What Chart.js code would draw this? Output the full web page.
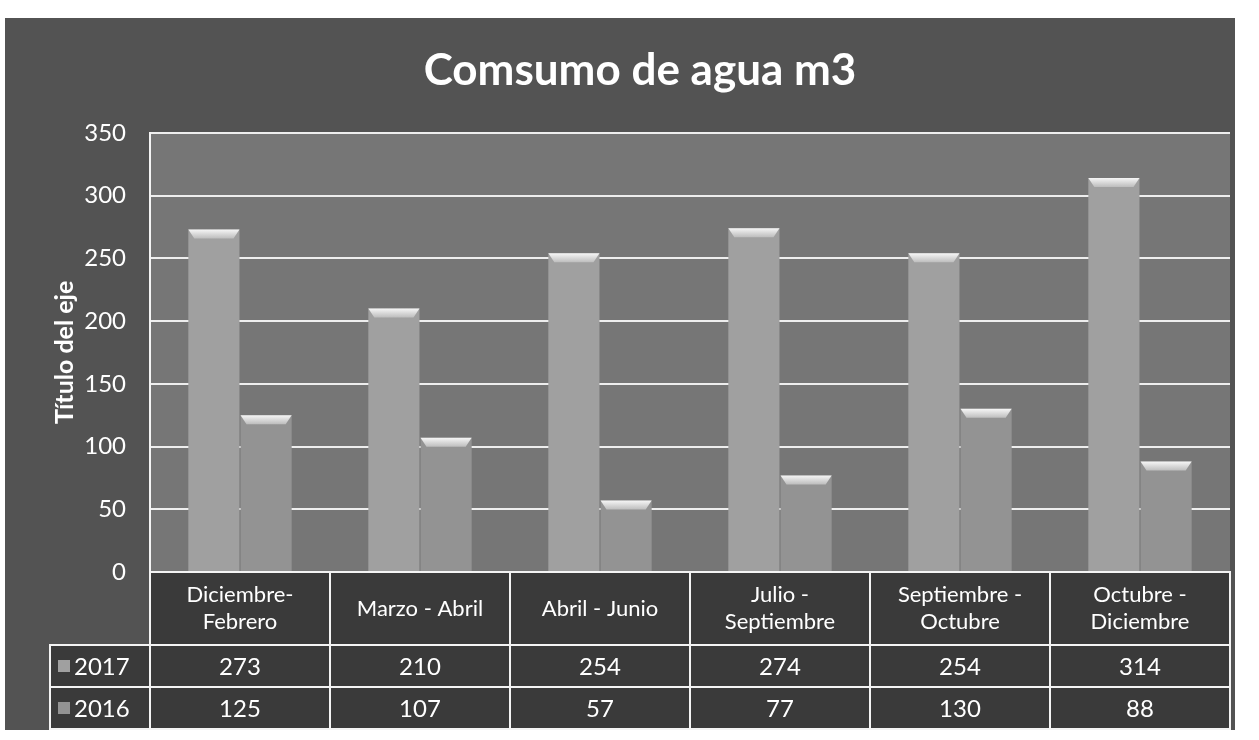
<!DOCTYPE html>
<html>
<head>
<meta charset="utf-8">
<script src="https://cdn.jsdelivr.net/npm/chart.js@4/dist/chart.umd.min.js"></script>
<style>
  html, body { margin: 0; padding: 0; background: #fff; }
  #wrap { width: 1259px; height: 740px; }
</style>
</head>
<body>
<div id="wrap"><canvas id="grafico" width="1259" height="740"></canvas></div>
<script>
const categorias = [
  ['Diciembre-', 'Febrero'],
  ['Marzo - Abril'],
  ['Abril - Junio'],
  ['Julio -', 'Septiembre'],
  ['Septiembre -', 'Octubre'],
  ['Octubre -', 'Diciembre']
];
const consumo2017 = [273, 210, 254, 274, 254, 314];
const consumo2016 = [125, 107, 57, 77, 130, 88];
const nombresSeries = ['2017', '2016'];
const coloresSeries = ['#a0a0a0', '#939393'];

const fuente = 'Lato, "Open Sans", sans-serif';

// fondo del grafico y area de trazado
const fondo = {
  id: 'fondo',
  beforeDraw(chart) {
    const { ctx, chartArea: a } = chart;
    ctx.save();
    ctx.fillStyle = '#ffffff';
    ctx.fillRect(0, 0, chart.width, chart.height);
    ctx.fillStyle = '#535353';
    ctx.fillRect(5, 18, 1230, 712);
    ctx.fillStyle = '#767676';
    ctx.fillRect(a.left, a.top, a.right - a.left, a.bottom - a.top);
    ctx.restore();
  }
};

// tapa clara en la parte superior de cada barra (efecto 3D)
const tapas = {
  id: 'tapas',
  afterDatasetsDraw(chart) {
    const { ctx } = chart;
    ctx.save();
    chart.data.datasets.forEach((ds, d) => {
      chart.getDatasetMeta(d).data.forEach(bar => {
        const w = bar.width, l = bar.x - w / 2, r = bar.x + w / 2, t = bar.y;
        const g = ctx.createLinearGradient(0, t, 0, t + 9);
        g.addColorStop(0, '#f6f6f6');
        g.addColorStop(1, '#bdbdbd');
        ctx.fillStyle = g;
        ctx.beginPath();
        ctx.moveTo(l, t);
        ctx.lineTo(r, t);
        ctx.lineTo(r - 6, t + 9);
        ctx.lineTo(l + 6, t + 9);
        ctx.closePath();
        ctx.fill();
      });
    });
    ctx.restore();
  }
};

// tabla de datos bajo el eje x
const tablaDatos = {
  id: 'tablaDatos',
  afterDraw(chart) {
    const { ctx, chartArea: a, scales } = chart;
    const x = scales.x;
    const n = categorias.length;
    const anchoCat = (a.right - a.left) / n;
    const filas = [a.bottom, a.bottom + 73, a.bottom + 115, a.bottom + 157];
    const series = [consumo2017, consumo2016];

    ctx.save();
    ctx.strokeStyle = '#f4f4f4';
    ctx.lineWidth = 2;
    ctx.textAlign = 'center';
    ctx.textBaseline = 'middle';

    for (let i = 0; i < n; i++) {
      const cx = x.getPixelForValue(i);
      const izq = cx - anchoCat / 2;
      ctx.fillStyle = '#3a3a3a';
      ctx.fillRect(izq, filas[0], anchoCat, filas[3] - filas[0]);
      ctx.strokeRect(izq, filas[0], anchoCat, filas[1] - filas[0]);
      ctx.fillStyle = '#ffffff';
      ctx.font = '22px ' + fuente;
      const lineas = categorias[i];
      const medio = (filas[0] + filas[1]) / 2;
      lineas.forEach((t, k) => {
        ctx.fillText(t, cx, medio + (k - (lineas.length - 1) / 2) * 27);
      });
      for (let s = 0; s < series.length; s++) {
        ctx.strokeRect(izq, filas[s + 1], anchoCat, filas[s + 2] - filas[s + 1]);
        ctx.font = '24px ' + fuente;
        ctx.fillText(String(series[s][i]), cx, (filas[s + 1] + filas[s + 2]) / 2 + 1);
      }
    }

    // leyenda dentro de la tabla
    const izqLey = 50;
    for (let s = 0; s < series.length; s++) {
      const y0 = filas[s + 1], y1 = filas[s + 2];
      ctx.fillStyle = '#3a3a3a';
      ctx.fillRect(izqLey, y0, a.left - izqLey, y1 - y0);
      ctx.strokeRect(izqLey, y0, a.left - izqLey, y1 - y0);
      ctx.fillStyle = coloresSeries[s];
      ctx.fillRect(izqLey + 8, (y0 + y1) / 2 - 6, 12, 12);
      ctx.fillStyle = '#ffffff';
      ctx.font = '24px ' + fuente;
      ctx.textAlign = 'left';
      ctx.fillText(nombresSeries[s], izqLey + 24, (y0 + y1) / 2 + 1);
      ctx.textAlign = 'center';
    }
    ctx.restore();
  }
};

new Chart(document.getElementById('grafico').getContext('2d'), {
  type: 'bar',
  data: {
    labels: categorias,
    datasets: [
      { label: nombresSeries[0], data: consumo2017, backgroundColor: coloresSeries[0] },
      { label: nombresSeries[1], data: consumo2016, backgroundColor: coloresSeries[1] }
    ]
  },
  options: {
    responsive: false,
    animation: false,
    categoryPercentage: 0.58,
    barPercentage: 0.98,
    layout: { padding: { left: 50, right: 29, top: 0, bottom: 168 } },
    plugins: {
      legend: { display: false },
      tooltip: { enabled: false },
      title: {
        display: true,
        text: 'Comsumo de agua m3',
        color: '#ffffff',
        font: { family: fuente, size: 44, weight: 'bold' },
        padding: { top: 44, bottom: 36 }
      }
    },
    scales: {
      x: { display: false },
      y: {
        min: 0,
        max: 350,
        ticks: {
          stepSize: 50,
          color: '#ffffff',
          padding: 24,
          font: { family: fuente, size: 24 }
        },
        grid: { color: '#eeeeee', lineWidth: 2, drawTicks: false },
        border: { color: '#f4f4f4', width: 2 },
        title: {
          display: true,
          text: 'Título del eje',
          color: '#ffffff',
          font: { family: fuente, size: 25, weight: 'bold' },
          padding: { top: 0, bottom: 4 }
        },
        afterFit(s) { s.width = 100; }
      }
    }
  },
  plugins: [fondo, tapas, tablaDatos]
});
</script>
</body>
</html>
